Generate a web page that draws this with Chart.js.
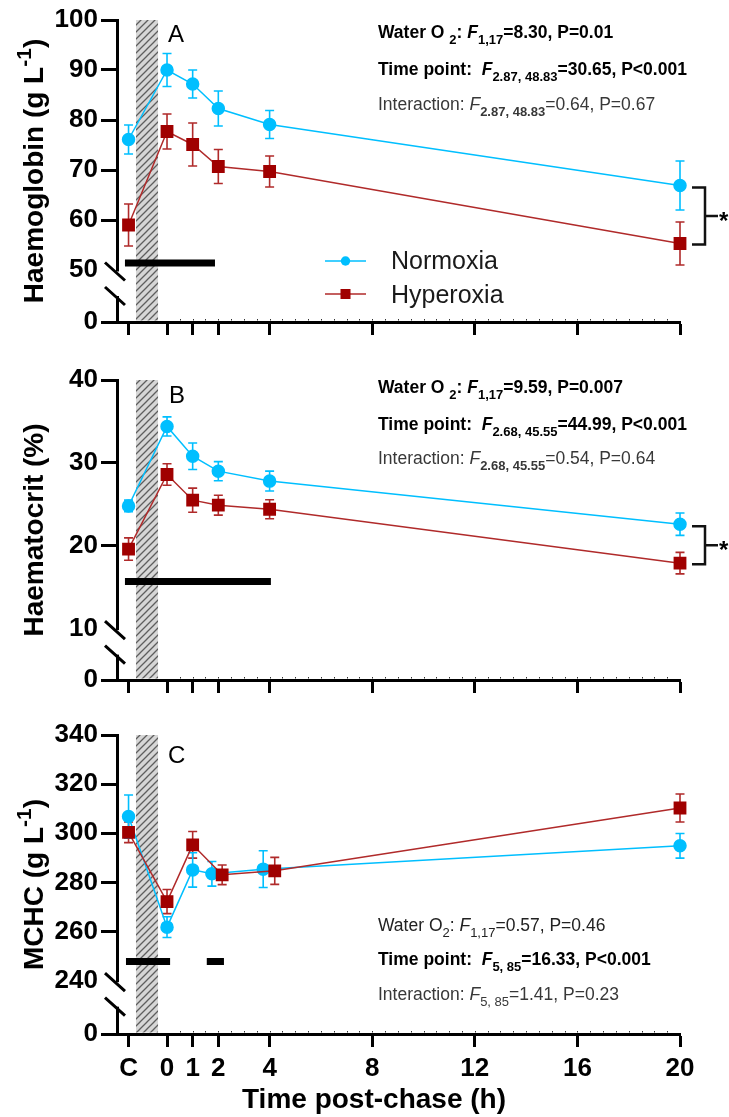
<!DOCTYPE html>
<html>
<head>
<meta charset="utf-8">
<script src="https://cdn.jsdelivr.net/npm/chart.js@4.4.1/dist/chart.umd.min.js"></script>
<style>
  body { margin: 0; background: #fff; }
  canvas { position: absolute; left: 0; }
</style>
</head>
<body>
<canvas id="panelA" width="729" height="345" style="top:0px"></canvas>
<canvas id="panelB" width="729" height="355" style="top:345px"></canvas>
<canvas id="panelC" width="729" height="417" style="top:700px"></canvas>
<script>
// time axis (h), "C" = control sample before the chase
const timeTickValues = [-1.5, 0, 1, 2, 4, 8, 12, 16, 20];
const timeTickLabels = ["C", "0", "1", "2", "4", "8", "12", "16", "20"];
const sampleTimes = [-1.5, 0, 1, 2, 4, 20];

// A: haemoglobin (g L-1), mean and SEM
const hbTicks = [50, 60, 70, 80, 90, 100];
const hbNormoxia = [76.1, 90.0, 87.2, 82.3, 79.1, 66.9];
const hbNormoxiaErr = [2.9, 3.3, 2.8, 3.5, 2.8, 4.9];
const hbHyperoxia = [59.0, 77.7, 75.1, 70.7, 69.7, 55.3];
const hbHyperoxiaErr = [4.2, 3.5, 4.3, 3.4, 3.1, 4.3];

// B: haematocrit (%)
const hctTicks = [10, 20, 30, 40];
const hctNormoxia = [24.8, 34.4, 30.8, 29.0, 27.8, 22.6];
const hctNormoxiaErr = [0.7, 1.15, 1.6, 1.15, 1.2, 1.35];
const hctHyperoxia = [19.6, 28.6, 25.5, 24.9, 24.4, 17.9];
const hctHyperoxiaErr = [1.35, 1.3, 1.45, 1.2, 1.15, 1.3];

// C: MCHC (g L-1), points at 2 h and 4 h are nudged apart in the original
const mchcTicks = [240, 260, 280, 300, 320, 340];
const mchcNormoxiaTimes = [-1.5, 0, 1, 1.75, 3.75, 20];
const mchcHyperoxiaTimes = [-1.5, 0, 1, 2.15, 4.2, 20];
const mchcNormoxia = [306.8, 261.8, 285.1, 283.5, 285.4, 294.9];
const mchcNormoxiaErr = [8.8, 4.2, 7.0, 5.0, 7.5, 5.0];
const mchcHyperoxia = [300.4, 272.2, 295.3, 283.1, 284.7, 310.3];
const mchcHyperoxiaErr = [4.2, 4.9, 5.4, 4.0, 5.5, 5.7];

const FONT = '"Liberation Sans", Arial, sans-serif';
const BLUE = '#00bfff';
const RED = '#a00000';
const RED_LINE = '#b02a2a';

function pts(xs, ys) {
	return ys.map((y, i) => ({ x: xs[i], y: y }));
}

function hatchPattern(ctx) {
	const c = document.createElement('canvas');
	c.width = 7;
	c.height = 7;
	const g = c.getContext('2d');
	g.fillStyle = '#d6d6d6';
	g.fillRect(0, 0, 7, 7);
	g.strokeStyle = '#5e5e5e';
	g.lineWidth = 1.3;
	g.beginPath();
	g.moveTo(0, 7); g.lineTo(7, 0);
	g.moveTo(-1, 1); g.lineTo(1, -1);
	g.moveTo(6, 8); g.lineTo(8, 6);
	g.stroke();
	return ctx.createPattern(c, 'repeat');
}

// draws text made of pieces: b = bold, i = italic, s = subscript, ^ = superscript
function drawRich(ctx, x, y, segs, size, color) {
	ctx.fillStyle = color;
	ctx.textBaseline = 'alphabetic';
	ctx.textAlign = 'left';
	for (const [text, f] of segs) {
		const small = f.includes('s') || f.includes('^');
		const px = small ? Math.round(size * 0.76) : size;
		ctx.font = (f.includes('i') ? 'italic ' : '') + (f.includes('b') ? 'bold ' : '') + px + 'px ' + FONT;
		let dy = 0;
		if (f.includes('s')) dy = size * 0.36;
		if (f.includes('^')) dy = -size * 0.42;
		ctx.fillText(text, x, y + dy);
		x += ctx.measureText(text).width;
	}
}

function richWidth(ctx, segs, size) {
	let w = 0;
	for (const [text, f] of segs) {
		const small = f.includes('s') || f.includes('^');
		const px = small ? Math.round(size * 0.76) : size;
		ctx.font = (f.includes('i') ? 'italic ' : '') + (f.includes('b') ? 'bold ' : '') + px + 'px ' + FONT;
		w += ctx.measureText(text).width;
	}
	return w;
}

const extras = {
	id: 'extras',
	beforeDatasetsDraw(chart) {
		const p = chart.options.plugins.extras;
		const { ctx, chartArea } = chart;
		const xs = chart.scales.x, ys = chart.scales.y;
		ctx.save();
		// hatched chase period
		const hx0 = xs.getPixelForValue(-1.21), hx1 = xs.getPixelForValue(-0.35);
		ctx.fillStyle = hatchPattern(ctx);
		ctx.fillRect(hx0, chartArea.top, hx1 - hx0, chartArea.bottom - chartArea.top - 1.5);
		// black bars (time points differing from control)
		ctx.strokeStyle = '#000';
		ctx.lineWidth = 7;
		ctx.lineCap = 'butt';
		for (const b of p.sigBars) {
			const y = ys.getPixelForValue(p.sigY);
			ctx.beginPath();
			ctx.moveTo(xs.getPixelForValue(b[0]), y);
			ctx.lineTo(xs.getPixelForValue(b[1]), y);
			ctx.stroke();
		}
		// error bars
		chart.data.datasets.forEach((ds) => {
			ctx.strokeStyle = ds.borderColor === BLUE ? BLUE : RED_LINE;
			ctx.lineWidth = 1.6;
			ds.data.forEach((d, i) => {
				const e = ds.errors[i];
				const x = xs.getPixelForValue(d.x);
				const yt = ys.getPixelForValue(d.y + e), yb = ys.getPixelForValue(d.y - e);
				ctx.beginPath();
				ctx.moveTo(x, yt); ctx.lineTo(x, yb);
				ctx.moveTo(x - 4.5, yt); ctx.lineTo(x + 4.5, yt);
				ctx.moveTo(x - 4.5, yb); ctx.lineTo(x + 4.5, yb);
				ctx.stroke();
			});
		});
		ctx.restore();
	},
	afterDraw(chart) {
		const p = chart.options.plugins.extras;
		const { ctx, chartArea } = chart;
		const xs = chart.scales.x, ys = chart.scales.y;
		ctx.save();
		// broken y axis
		const yb = ys.getPixelForValue(p.breakValue);
		const c1 = yb + 1.5, c2 = yb + 26;
		const ax = chartArea.left;
		ctx.fillStyle = '#fff';
		ctx.fillRect(ax - 3, c1, 6, c2 - c1);
		ctx.strokeStyle = '#000';
		ctx.lineWidth = 3;
		ctx.beginPath();
		ctx.moveTo(ax - 12, c1 - 9); ctx.lineTo(ax + 8, c1 + 9);
		ctx.moveTo(ax - 12, c2 - 9); ctx.lineTo(ax + 8, c2 + 9);
		ctx.stroke();

		// faint minor ticks along the time axis
		ctx.lineWidth = 1;
		ctx.strokeStyle = '#333';
		ctx.beginPath();
		for (let t = 0.5; t < 20; t += 0.5) {
			const x = Math.round(xs.getPixelForValue(t)) + 0.5;
			ctx.moveTo(x, chartArea.bottom - 1.5);
			ctx.lineTo(x, chartArea.bottom - 3);
		}
		ctx.stroke();

		// panel letter
		ctx.fillStyle = '#000';
		ctx.font = '24px ' + FONT;
		ctx.textAlign = 'left';
		ctx.textBaseline = 'alphabetic';
		ctx.fillText(p.letter, p.letterPos[0], p.letterPos[1]);

		// statistics text
		p.notes.forEach((n, i) => {
			drawRich(ctx, 378, p.noteY[i], n.segs, 17.5, n.color);
		});

		// y axis title, rotated
		ctx.save();
		const w = richWidth(ctx, p.yTitle, 28);
		ctx.translate(43, (chartArea.top + chartArea.bottom) / 2);
		ctx.rotate(-Math.PI / 2);
		drawRich(ctx, -w / 2, 0, p.yTitle, 28, '#000');
		ctx.restore();

		// bracket + asterisk between the 20 h points
		if (p.bracket) {
			const n = chart.getDatasetMeta(1).data, h = chart.getDatasetMeta(0).data;
			const yTop = n[n.length - 1].y + 2, yBot = h[h.length - 1].y + 1;
			const r = chartArea.right;
			ctx.strokeStyle = '#111';
			ctx.lineWidth = 2.5;
			ctx.beginPath();
			ctx.moveTo(r + 12, yTop); ctx.lineTo(r + 25, yTop); ctx.lineTo(r + 25, yBot); ctx.lineTo(r + 12, yBot);
			ctx.moveTo(r + 25, (yTop + yBot) / 2); ctx.lineTo(r + 38, (yTop + yBot) / 2);
			ctx.stroke();
			ctx.fillStyle = '#000';
			ctx.font = 'bold 24px ' + FONT;
			ctx.textAlign = 'left';
			ctx.fillText('*', r + 39, (yTop + yBot) / 2 + 13);
		}

		// legend
		if (p.legend) {
			ctx.lineWidth = 1.5;
			ctx.strokeStyle = BLUE;
			ctx.beginPath(); ctx.moveTo(325, 261); ctx.lineTo(366, 261); ctx.stroke();
			ctx.fillStyle = BLUE;
			ctx.beginPath(); ctx.arc(345.5, 261, 4.7, 0, Math.PI * 2); ctx.fill();
			ctx.strokeStyle = RED_LINE;
			ctx.beginPath(); ctx.moveTo(325, 294); ctx.lineTo(366, 294); ctx.stroke();
			ctx.fillStyle = RED;
			ctx.fillRect(340.5, 289, 10, 10);
			ctx.fillStyle = '#1a1a1a';
			ctx.font = '25px ' + FONT;
			ctx.fillText('Normoxia', 391, 269);
			ctx.fillText('Hyperoxia', 391, 303);
		}

		// x axis title (bottom panel only)
		if (p.xTitle) {
			ctx.fillStyle = '#000';
			ctx.font = 'bold 28px ' + FONT;
			ctx.textAlign = 'center';
			ctx.fillText(p.xTitle, 374, 408);
		}
		ctx.restore();
	}
};

function makePanel(id, cfg) {
	const axisFont = { family: FONT, size: 26, weight: 'bold' };
	new Chart(document.getElementById(id), {
		type: 'line',
		data: {
			datasets: [
				{
					label: 'Hyperoxia',
					data: pts(cfg.hypTimes, cfg.hyp),
					errors: cfg.hypErr,
					borderColor: RED_LINE,
					backgroundColor: RED,
					pointBackgroundColor: RED,
					pointBorderColor: RED,
					pointStyle: 'rect',
					pointRadius: 8,
					borderWidth: 1.5,
					clip: false,
				},
				{
					label: 'Normoxia',
					data: pts(cfg.normTimes, cfg.norm),
					errors: cfg.normErr,
					borderColor: BLUE,
					backgroundColor: BLUE,
					pointBackgroundColor: BLUE,
					pointBorderColor: BLUE,
					pointStyle: 'circle',
					pointRadius: 6,
					borderWidth: 1.5,
					clip: false,
				},
			],
		},
		options: {
			responsive: false,
			animation: false,
			events: [],
			layout: { padding: { top: cfg.padTop, right: 49, left: 0, bottom: 0 } },
			scales: {
				x: {
					type: 'linear',
					min: -1.95,
					max: 20,
					afterBuildTicks: (s) => { s.ticks = timeTickValues.map((v) => ({ value: v })); },
					afterFit: (s) => { s.height = cfg.xHeight; },
					ticks: {
						display: cfg.xLabels,
						autoSkip: false,
						maxRotation: 0,
						color: '#000',
						padding: 6,
						font: { family: FONT, size: 26, weight: 'bold' },
						callback: (v, i) => timeTickLabels[i],
					},
					grid: { drawOnChartArea: false, tickLength: 13, tickWidth: 3, tickColor: '#000' },
					border: { color: '#000', width: 3 },
				},
				y: {
					min: cfg.floor,
					max: cfg.ticks[cfg.ticks.length - 1],
					afterBuildTicks: (s) => { s.ticks = [cfg.floor].concat(cfg.ticks).map((v) => ({ value: v })); },
					afterFit: (s) => { s.width = 117; },
					ticks: {
						color: '#000',
						padding: 3,
						font: axisFont,
						callback: (v, i) => (i === 0 ? '0' : v),
					},
					grid: {
						drawOnChartArea: false,
						tickLength: 16,
						tickWidth: 3,
						tickColor: (c) => (c.tick && c.tick.value === cfg.breakValue ? 'rgba(0,0,0,0)' : '#000'),
					},
					border: { color: '#000', width: 3 },
				},
			},
			plugins: {
				legend: { display: false },
				tooltip: { enabled: false },
				extras: cfg.extras,
			},
		},
		plugins: [extras],
	});
}

makePanel('panelA', {
	normTimes: sampleTimes, norm: hbNormoxia, normErr: hbNormoxiaErr,
	hypTimes: sampleTimes, hyp: hbHyperoxia, hypErr: hbHyperoxiaErr,
	ticks: hbTicks, floor: 39.6, breakValue: 50,
	padTop: 20, xHeight: 23, xLabels: false,
	extras: {
		breakValue: 50, letter: 'A', letterPos: [168, 42],
		sigBars: [[-1.64, 1.87]], sigY: 51.4,
		bracket: true, legend: true,
		yTitle: [['Haemoglobin (g L', 'b'], ['-1', 'b^'], [')', 'b']],
		noteY: [38, 75, 110],
		notes: [
			{ color: '#000', segs: [['Water O ', 'b'], ['2', 'bs'], [': ', 'b'], ['F', 'bi'], ['1,17', 'bs'], ['=8.30, P=0.01', 'b']] },
			{ color: '#000', segs: [['Time point:  ', 'b'], ['F', 'bi'], ['2.87, 48.83', 'bs'], ['=30.65, P<0.001', 'b']] },
			{ color: '#383838', segs: [['Interaction: ', ''], ['F', 'i'], ['2.87, 48.83', 'bs'], ['=0.64, P=0.67', '']] },
		],
	},
});

makePanel('panelB', {
	normTimes: sampleTimes, norm: hctNormoxia, normErr: hctNormoxiaErr,
	hypTimes: sampleTimes, hyp: hctHyperoxia, hypErr: hctHyperoxiaErr,
	ticks: hctTicks, floor: 3.8, breakValue: 10,
	padTop: 35, xHeight: 20, xLabels: false,
	extras: {
		breakValue: 10, letter: 'B', letterPos: [169, 58],
		sigBars: [[-1.64, 4.05]], sigY: 15.7,
		bracket: true, legend: false,
		yTitle: [['Haematocrit (%)', 'b']],
		noteY: [48, 85, 119],
		notes: [
			{ color: '#000', segs: [['Water O ', 'b'], ['2', 'bs'], [': ', 'b'], ['F', 'bi'], ['1,17', 'bs'], ['=9.59, P=0.007', 'b']] },
			{ color: '#000', segs: [['Time point:  ', 'b'], ['F', 'bi'], ['2.68, 45.55', 'bs'], ['=44.99, P<0.001', 'b']] },
			{ color: '#383838', segs: [['Interaction: ', ''], ['F', 'i'], ['2.68, 45.55', 'bs'], ['=0.54, P=0.64', '']] },
		],
	},
});

makePanel('panelC', {
	normTimes: mchcNormoxiaTimes, norm: mchcNormoxia, normErr: mchcNormoxiaErr,
	hypTimes: mchcHyperoxiaTimes, hyp: mchcHyperoxia, hypErr: mchcHyperoxiaErr,
	ticks: mchcTicks, floor: 218.3, breakValue: 240,
	padTop: 35, xHeight: 83, xLabels: true,
	extras: {
		breakValue: 240, letter: 'C', letterPos: [168, 63],
		sigBars: [[-1.6, 0.12], [1.55, 2.22]], sigY: 247.8,
		bracket: false, legend: false,
		yTitle: [['MCHC (g L', 'b'], ['-1', 'b^'], [')', 'b']],
		xTitle: 'Time post-chase (h)',
		noteY: [231, 265, 300],
		notes: [
			{ color: '#222', segs: [['Water O', ''], ['2', 's'], [': ', ''], ['F', 'i'], ['1,17', 's'], ['=0.57, P=0.46', '']] },
			{ color: '#000', segs: [['Time point:  ', 'b'], ['F', 'bi'], ['5, 85', 'bs'], ['=16.33, P<0.001', 'b']] },
			{ color: '#383838', segs: [['Interaction: ', ''], ['F', 'i'], ['5, 85', 's'], ['=1.41, P=0.23', '']] },
		],
	},
});
</script>
</body>
</html>
